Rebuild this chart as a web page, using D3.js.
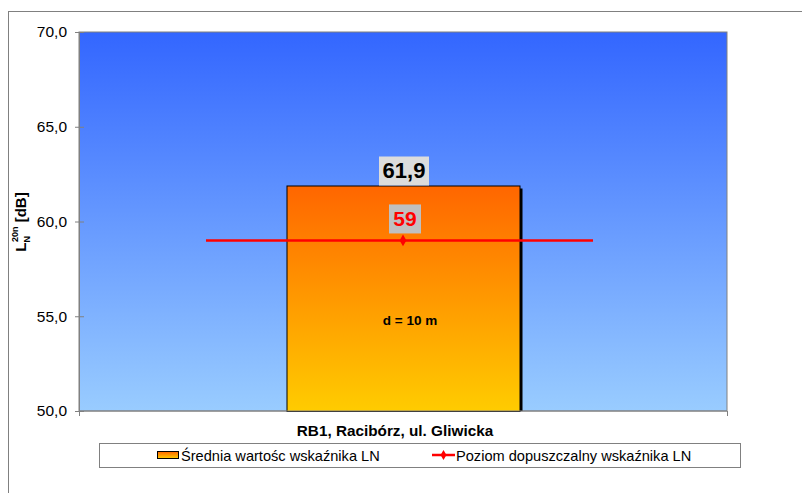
<!DOCTYPE html>
<html>
<head>
<meta charset="utf-8">
<script src="https://cdn.jsdelivr.net/npm/d3@7"></script>
<style>
  html, body { margin: 0; padding: 0; background: #fff; }
  svg { display: block; font-family: "Liberation Sans", Arial, sans-serif; }
</style>
</head>
<body>
<svg id="chart" width="802" height="493"></svg>
<script>
// Measurement point and values (dB)
const categories = ["RB1, Racibórz, ul. Gliwicka"];
const meanValues = [61.9];
const limitValues = [59];
const valueLabels = ["61,9"];
const limitLabels = ["59"];
const yTicks = [50, 55, 60, 65, 70];
const distanceNote = "d = 10 m";
const seriesNames = ["Średnia wartośc wskaźnika LN", "Poziom dopuszczalny wskaźnika LN"];

const svg = d3.select("#chart");
const plot = { left: 79, top: 32, right: 727, bottom: 411 };

// Outer chart frame
svg.append("rect")
  .attr("x", 8.5).attr("y", 11.5).attr("width", 810).attr("height", 500)
  .attr("fill", "#fff").attr("stroke", "#808080").attr("stroke-width", 1);

const defs = svg.append("defs");
const bgGrad = defs.append("linearGradient").attr("id", "bgGrad")
  .attr("x1", 0).attr("y1", 0).attr("x2", 0).attr("y2", 1);
bgGrad.append("stop").attr("offset", "0%").attr("stop-color", "#3366ff");
bgGrad.append("stop").attr("offset", "100%").attr("stop-color", "#99ccff");

const barGrad = defs.append("linearGradient").attr("id", "barGrad")
  .attr("x1", 0).attr("y1", 0).attr("x2", 0).attr("y2", 1);
barGrad.append("stop").attr("offset", "0%").attr("stop-color", "#ff6600");
barGrad.append("stop").attr("offset", "100%").attr("stop-color", "#ffcc00");

const y = d3.scaleLinear().domain([50, 70]).range([plot.bottom, plot.top]);
const x = d3.scaleBand().domain(categories).range([plot.left, plot.right]).paddingInner(0).paddingOuter(0);

// Plot area background
svg.append("rect")
  .attr("x", plot.left).attr("y", plot.top)
  .attr("width", plot.right - plot.left).attr("height", plot.bottom - plot.top)
  .attr("fill", "url(#bgGrad)").attr("stroke", "#808080").attr("stroke-width", 1);

// Bars with a drop shadow
const barW = 233;
const bars = svg.append("g");
categories.forEach((c, i) => {
  const cx = x(c) + x.bandwidth() / 2;
  bars.append("rect")
    .attr("x", cx - barW / 2 + 3).attr("y", y(meanValues[i]) + 3)
    .attr("width", barW).attr("height", y(50) - y(meanValues[i]) - 3)
    .attr("fill", "#000");
  bars.append("rect")
    .attr("x", cx - barW / 2 + 0.5).attr("y", y(meanValues[i]) + 0.5)
    .attr("width", barW).attr("height", y(50) - y(meanValues[i]))
    .attr("fill", "url(#barGrad)").attr("stroke", "#000").attr("stroke-width", 1);
  bars.append("text")
    .attr("x", cx + 7).attr("y", 325)
    .attr("text-anchor", "middle")
    .attr("font-size", 13.5).attr("font-weight", "bold").attr("fill", "#000")
    .text(distanceNote);
});

// Axes
const yAxis = d3.axisLeft(y).tickValues(yTicks)
  .tickFormat(d => d3.format(".1f")(d).replace(".", ","))
  .tickSizeInner(4).tickSizeOuter(0).tickPadding(8);
const gy = svg.append("g").attr("transform", `translate(${plot.left},0)`).call(yAxis);
gy.select(".domain").attr("stroke", "#808080");
gy.selectAll(".tick line").attr("stroke", "#808080").attr("x2", 5).attr("x1", -4);
gy.selectAll(".tick text").attr("font-size", 15.5).attr("fill", "#000")
  .attr("font-family", "Liberation Sans, Arial, sans-serif");

const gx = svg.append("g").attr("transform", `translate(0,${plot.bottom})`);
gx.append("line").attr("x1", plot.left).attr("x2", plot.right).attr("stroke", "#808080");
[plot.left, plot.right].forEach(px => {
  gx.append("line").attr("x1", px + 0.5).attr("x2", px + 0.5).attr("y1", 0).attr("y2", 5).attr("stroke", "#808080");
});
categories.forEach(c => {
  gx.append("text")
    .attr("x", x(c) + x.bandwidth() / 2 - 8).attr("y", 25)
    .attr("text-anchor", "middle")
    .attr("font-size", 15.3).attr("font-weight", "bold").attr("fill", "#000")
    .text(c);
});

// Limit line across the category
categories.forEach((c, i) => {
  const cx = x(c) + x.bandwidth() / 2;
  const ly = y(limitValues[i]);
  svg.append("line")
    .attr("x1", cx - 197).attr("x2", cx + 190)
    .attr("y1", ly).attr("y2", ly)
    .attr("stroke", "#ff0000").attr("stroke-width", 2.5);
  svg.append("path")
    .attr("d", d3.symbol().type(d3.symbolDiamond).size(40)())
    .attr("transform", `translate(${cx},${ly})`)
    .attr("fill", "#ff0000");
});

// Value labels with grey boxes
function boxedLabel(cx, cyBaseline, text, color, bg, size, boxW, boxH) {
  const g = svg.append("g");
  g.append("rect")
    .attr("x", cx - boxW / 2).attr("y", cyBaseline - boxH + 7)
    .attr("width", boxW).attr("height", boxH)
    .attr("fill", bg);
  g.append("text")
    .attr("x", cx).attr("y", cyBaseline)
    .attr("text-anchor", "middle")
    .attr("font-size", size).attr("font-weight", "bold").attr("fill", color)
    .text(text);
}
categories.forEach((c, i) => {
  const cx = x(c) + x.bandwidth() / 2;
  boxedLabel(cx + 1, y(meanValues[i]) - 7, valueLabels[i], "#000", "#dcdcdc", 22, 50, 29);
  boxedLabel(cx + 2, y(limitValues[i]) - 14, limitLabels[i], "#ff0000", "#c0c0c0", 21, 32, 29);
});

// Y axis title: L_N^20n [dB]
const yt = svg.append("text")
  .attr("transform", "translate(26,222) rotate(-90)")
  .attr("text-anchor", "middle")
  .attr("font-size", 15).attr("font-weight", "bold").attr("fill", "#000");
yt.append("tspan").text("L");
yt.append("tspan").attr("font-size", 9).attr("dy", 4).text("N");
yt.append("tspan").attr("font-size", 9).attr("dy", -12).attr("dx", -6).text("20n");
yt.append("tspan").attr("dy", 8).text(" [dB]");

// Legend
const lg = svg.append("g");
lg.append("rect")
  .attr("x", 99.5).attr("y", 443.5).attr("width", 641).attr("height", 24)
  .attr("fill", "#fff").attr("stroke", "#808080");
lg.append("rect")
  .attr("x", 157.5).attr("y", 451.5).attr("width", 21).attr("height", 7)
  .attr("fill", "url(#barGrad)").attr("stroke", "#000");
lg.append("text")
  .attr("x", 181).attr("y", 461)
  .attr("font-size", 14.6).attr("fill", "#000")
  .text(seriesNames[0]);
lg.append("line")
  .attr("x1", 432).attr("x2", 455).attr("y1", 455).attr("y2", 455)
  .attr("stroke", "#ff0000").attr("stroke-width", 2.5);
lg.append("path")
  .attr("d", d3.symbol().type(d3.symbolDiamond).size(30)())
  .attr("transform", "translate(443.5,455)")
  .attr("fill", "#ff0000");
lg.append("text")
  .attr("x", 456).attr("y", 461)
  .attr("font-size", 14.6).attr("fill", "#000")
  .text(seriesNames[1]);
</script>
</body>
</html>
